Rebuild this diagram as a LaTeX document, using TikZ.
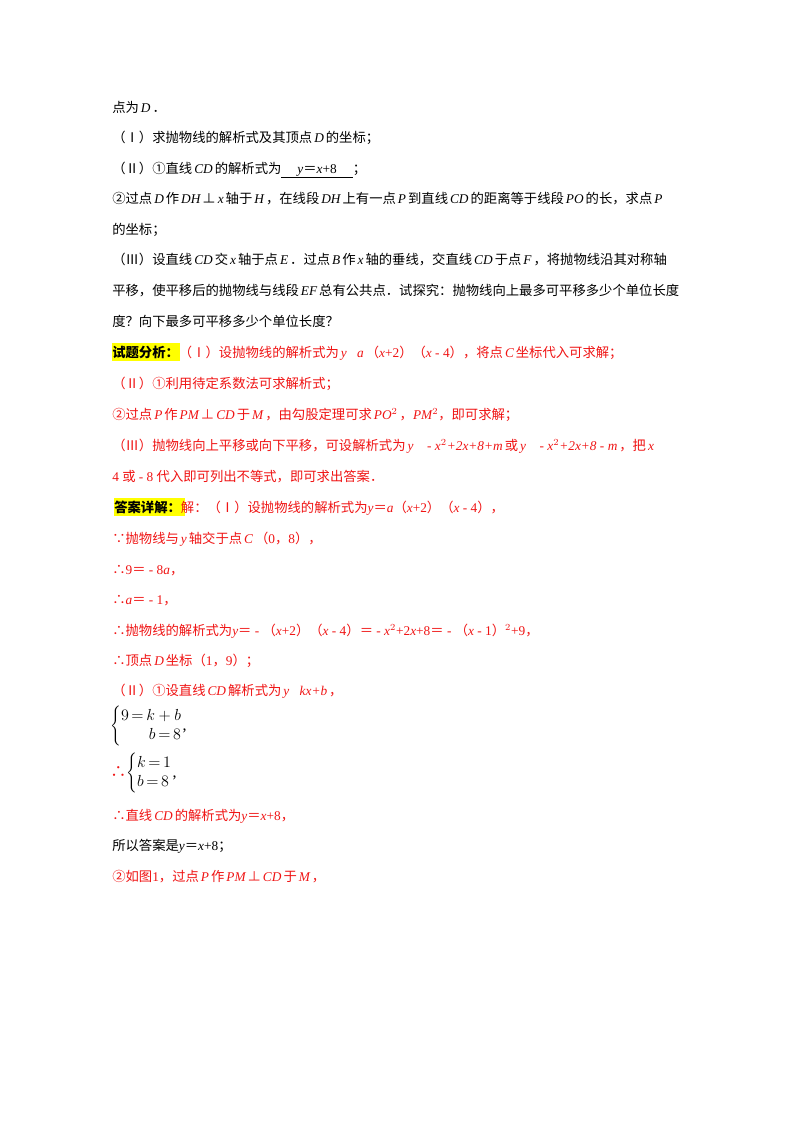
\documentclass[tikz,border=0pt]{standalone}
\usepackage{fontspec}
\setmainfont{Noto Sans CJK SC}
\newfontfamily\tm{Liberation Serif}
\newcommand{\iv}[1]{\hspace{0.15em}{\tm\itshape #1}\hspace{0.15em}}
\newcommand{\mv}[1]{{\tm\itshape #1}}
\newcommand{\rn}[1]{{\tm #1}}
\definecolor{rd}{RGB}{240,20,20}
\definecolor{hl}{RGB}{255,255,0}
\begin{document}
\begin{tikzpicture}[x=0.75pt,y=-0.75pt,
  ln/.style={anchor=base west,inner sep=0pt,font=\fontsize{10pt}{12pt}\selectfont},
  rl/.style={ln,text=rd}]
\useasboundingbox (0,0) rectangle (800,1132);
\fill[white] (0,0) rectangle (800,1132);
\node[ln] (l1) at (112,112) {点为\iv{D}．};
\node[ln] (l2) at (112,142) {（Ⅰ）求抛物线的解析式及其顶点\iv{D}的坐标；};
\node[ln] (l3) at (112,173) {（Ⅱ）①直线\iv{CD}的解析式为\underline{\hspace{1.2em}\mv{y}＝\mv{x}\rn{+8}\hspace{1.2em}}；};
\node[ln] (l4) at (112,203) {②过点\iv{D}作\iv{DH}⊥\iv{x}轴于\iv{H}，在线段\iv{DH}上有一点\iv{P}到直线\iv{CD}的距离等于线段\iv{PO}的长，求点\iv{P}};
\node[ln] (l5) at (112,234) {的坐标；};
\node[ln] (l6) at (112,264) {（Ⅲ）设直线\iv{CD}交\iv{x}轴于点\iv{E}．过点\iv{B}作\iv{x}轴的垂线，交直线\iv{CD}于点\iv{F}，将抛物线沿其对称轴};
\node[ln] (l7) at (112,295) {平移，使平移后的抛物线与线段\iv{EF}总有公共点．试探究：抛物线向上最多可平移多少个单位长度};
\node[ln] (l8) at (112,326) {度？向下最多可平移多少个单位长度？};
\fill[hl] (112,343) rectangle (180,361);
\node[rl] (l9) at (112,357) {{\color{black}\bfseries 试题分析：}（Ⅰ）设抛物线的解析式为\iv{\mv{y}＝\mv{a}}（\mv{x}\rn{+2}）（\mv{x}\rn{ - 4}），将点\iv{C}坐标代入可求解；};
\node[rl] (l10) at (112,388) {（Ⅱ）①利用待定系数法可求解析式；};
\node[rl] (l11) at (112,419) {②过点\iv{P}作\iv{PM}⊥\iv{CD}于\iv{M}，由勾股定理可求\iv{PO\rn{\upshape$^2$}}，\mv{PM}\rn{$^2$}，即可求解；};
\node[rl] (l12) at (112,450) {（Ⅲ）抛物线向上平移或向下平移，可设解析式为\iv{\mv{y}＝\rn{ - }\mv{x}\rn{$^2$+2}\mv{x}\rn{+8+}\mv{m}}或\iv{\mv{y}＝\rn{ - }\mv{x}\rn{$^2$+2}\mv{x}\rn{+8 - }\mv{m}}，把\iv{\mv{x}＝}};
\node[rl] (l13) at (112,481) {\rn{4 }或\rn{ - 8 }代入即可列出不等式，即可求出答案．};
\fill[hl] (114,498) rectangle (185,516);
\node[rl] (l14) at (114,512) {{\color{black}\bfseries 答案详解：}解：（Ⅰ）设抛物线的解析式为\mv{y}＝\mv{a}（\mv{x}\rn{+2}）（\mv{x}\rn{ - 4}），};
\node[rl] (l15) at (112,543) {∵抛物线与\iv{y}轴交于点\iv{C}（\rn{0}，\rn{8}），};
\node[rl] (l16) at (112,574) {∴\rn{9}＝\rn{ - 8}\mv{a}，};
\node[rl] (l17) at (112,604) {∴\mv{a}＝\rn{ - 1}，};
\node[rl] (l18) at (112,635) {∴抛物线的解析式为\mv{y}＝\rn{ - }（\mv{x}\rn{+2}）（\mv{x}\rn{ - 4}）＝\rn{ - }\mv{x}\rn{$^2$+2}\mv{x}\rn{+8}＝\rn{ - }（\mv{x}\rn{ - 1}）\rn{$^2$+9}，};
\node[rl] (l19) at (112,665) {∴顶点\iv{D}坐标（\rn{1}，\rn{9}）；};
\node[rl] (l20) at (112,695) {（Ⅱ）①设直线\iv{CD}解析式为\iv{\mv{y}＝\mv{kx}\rn{+}\mv{b}}，};
\node[ln,anchor=west,font=\large] (s1) at (110,726) {$\left\{\begin{array}{@{}r@{}}9\,{=}\,k+b\\ b\,{=}\,8\end{array}\right.$\rn{,}};
\node[ln,anchor=west,font=\large] (s2) at (110,773) {\textcolor{rd}{∴}$\left\{\begin{array}{@{}l@{}}k\,{=}\,1\\ b\,{=}\,8\end{array}\right.$\rn{,}};
\node[rl] (l21) at (112,820) {∴直线\iv{CD}的解析式为\mv{y}＝\mv{x}\rn{+8}，};
\node[ln] (l22) at (112,850) {所以答案是\mv{y}＝\mv{x}\rn{+8}；};
\node[rl] (l23) at (112,881) {②如图\rn{1}，过点\iv{P}作\iv{PM}⊥\iv{CD}于\iv{M}，};
\end{tikzpicture}
\end{document}
